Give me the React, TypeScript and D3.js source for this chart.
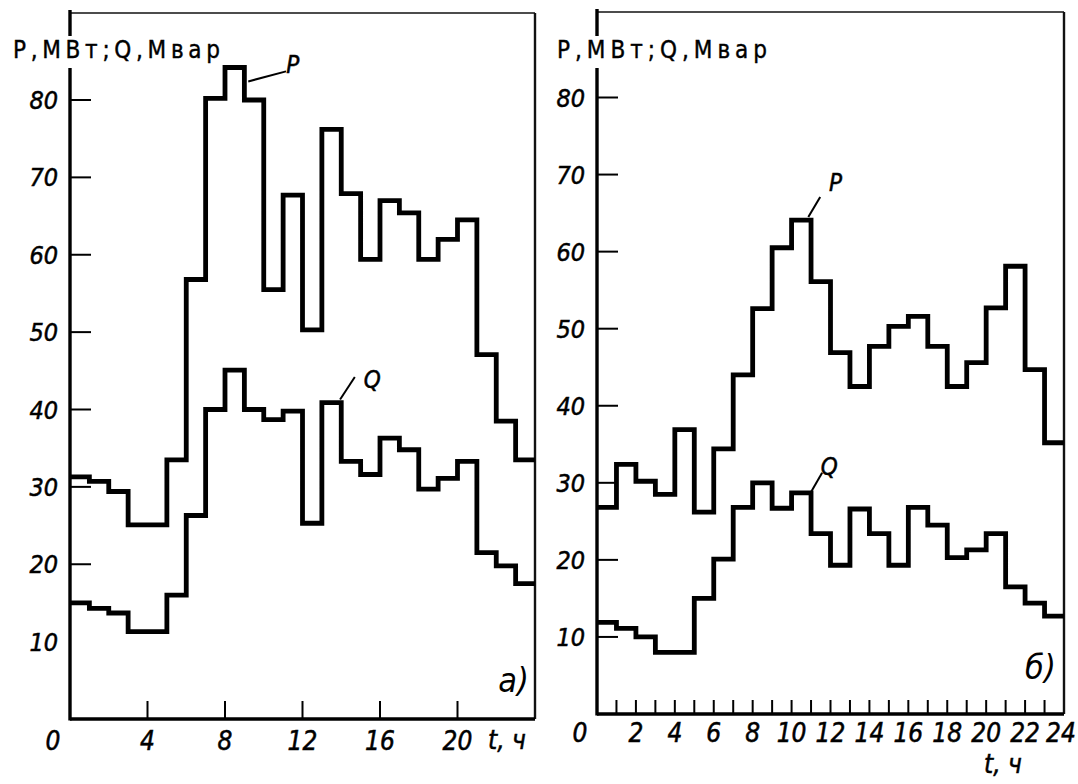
import { useRef, useEffect } from 'react'
import * as d3 from 'd3'

// hourly steps, value holds from hour h to h+1
const hours = [0, 1, 2, 3, 4, 5, 6, 7, 8, 9, 10, 11, 12, 13, 14, 15, 16, 17, 18, 19, 20, 21, 22, 23]

const pLeft = [31.3, 30.7, 29.4, 25.1, 25.1, 33.5, 56.8, 80.2, 84.2, 80.0, 55.5, 67.7, 50.3, 76.2, 67.9, 59.4, 67.0, 65.4, 59.4, 62.0, 64.5, 47.1, 38.5, 33.5]
const qLeft = [15.0, 14.3, 13.7, 11.3, 11.3, 16.0, 26.3, 40.0, 45.1, 40.0, 38.7, 39.8, 25.3, 40.9, 33.3, 31.6, 36.3, 34.8, 29.7, 31.1, 33.3, 21.5, 19.8, 17.5]
const pRight = [26.8, 32.4, 30.2, 28.5, 36.9, 26.2, 34.4, 44.0, 52.6, 60.5, 64.1, 56.1, 46.9, 42.5, 47.7, 50.3, 51.6, 47.7, 42.5, 45.6, 52.7, 58.1, 44.7, 35.2]
const qRight = [11.9, 11.1, 10.0, 8.0, 8.0, 15.0, 20.1, 26.8, 30.0, 26.7, 28.7, 23.4, 19.3, 26.6, 23.4, 19.3, 26.8, 24.5, 20.3, 21.3, 23.4, 16.5, 14.4, 12.7]

const yTickValues = [10, 20, 30, 40, 50, 60, 70, 80]
const xLabelsLeft = [0, 4, 8, 12, 16, 20]
const xTicksLeft = [4, 8, 12, 16, 20]
const xLabelsRight = [0, 2, 4, 6, 8, 10, 12, 14, 16, 18, 20, 22, 24]
const xTicksRight = [1, 2, 3, 4, 5, 6, 7, 8, 9, 10, 11, 12, 13, 14, 15, 16, 17, 18, 19, 20, 21, 22, 23]

const titleText = 'P,МВт;Q,Мвар'
const FONT = "'DejaVu Sans Condensed', 'DejaVu Sans', sans-serif"

type Panel = {
  p: number[]
  q: number[]
  left: number
  right: number
  bottom: number
  y80: number
  top: number
  yTicks: number[]
  xTicks: number[]
  xTickLen: number
  xLabels: number[]
  xLabelY: number
  unitX: number
  unitY: number
  panelLetter: string
  letterAt: [number, number]
  titleX: number
  titleLen: number
  pLabel: [number, number]
  pLeader: [number, number, number, number]
  qLabel: [number, number]
  qLeader: [number, number, number, number]
}

const panels: Panel[] = [
  {
    p: pLeft, q: qLeft,
    left: 70, right: 535, bottom: 719, y80: 100, top: 13,
    yTicks: [20, 30, 40, 50, 60, 70, 80],
    xTicks: xTicksLeft, xTickLen: 18,
    xLabels: xLabelsLeft, xLabelY: 750,
    unitX: 488, unitY: 749,
    panelLetter: 'а)', letterAt: [22.1, 3.5],
    titleX: 13, titleLen: 207,
    pLabel: [11.5, 84.6], pLeader: [9.2, 82.4, 11.15, 83.7],
    qLabel: [15.6, 44.0], qLeader: [13.94, 41.3, 14.7, 44.2],
  },
  {
    p: pRight, q: qRight,
    left: 597, right: 1064, bottom: 714, y80: 97.5, top: 12,
    yTicks: yTickValues,
    xTicks: xTicksRight, xTickLen: 14,
    xLabels: xLabelsRight, xLabelY: 742,
    unitX: 984, unitY: 773,
    panelLetter: 'б)', letterAt: [22.0, 4.5],
    titleX: 557, titleLen: 210,
    pLabel: [12.26, 69.0], pLeader: [10.86, 64.5, 11.47, 67.1],
    qLabel: [11.93, 32.2], qLeader: [11.0, 28.8, 11.57, 31.3],
  },
]

export default function App() {
  const svgRef = useRef<SVGSVGElement>(null)

  useEffect(() => {
    if (!svgRef.current) return
    const svg = d3.select(svgRef.current)
    svg.selectAll('*').remove()

    svg.append('rect').attr('width', 1078).attr('height', 784).attr('fill', '#fff')

    panels.forEach((cfg) => {
      const x = d3.scaleLinear().domain([0, 24]).range([cfg.left, cfg.right])
      const y = d3.scaleLinear().domain([0, 80]).range([cfg.bottom, cfg.y80])
      const g = svg.append('g')

      // frame: top and right edges
      g.append('line')
        .attr('x1', x(0)).attr('x2', x(24))
        .attr('y1', cfg.top).attr('y2', cfg.top)
        .attr('stroke', '#111').attr('stroke-width', 1.6)
      g.append('line')
        .attr('x1', x(24)).attr('x2', x(24))
        .attr('y1', cfg.top).attr('y2', y(0))
        .attr('stroke', '#111').attr('stroke-width', 2.4)

      // axes
      g.append('line')
        .attr('x1', x(0)).attr('x2', x(0))
        .attr('y1', cfg.top - 3).attr('y2', y(0) + 1.5)
        .attr('stroke', '#000').attr('stroke-width', 3.4)
      g.append('line')
        .attr('x1', x(0)).attr('x2', x(24))
        .attr('y1', y(0)).attr('y2', y(0))
        .attr('stroke', '#000').attr('stroke-width', 3.4)

      // y ticks
      g.selectAll('.yt')
        .data(cfg.yTicks)
        .enter()
        .append('line')
        .attr('x1', x(0)).attr('x2', x(0) + 21)
        .attr('y1', (d) => y(d)).attr('y2', (d) => y(d))
        .attr('stroke', '#000').attr('stroke-width', 2)

      g.selectAll('.yl')
        .data(yTickValues)
        .enter()
        .append('text')
        .attr('x', x(0) - 12)
        .attr('y', (d) => y(d) + 9)
        .attr('text-anchor', 'end')
        .attr('font-family', FONT)
        .attr('font-style', 'italic')
        .attr('font-stretch', 'condensed')
        .attr('font-size', 25)
        .attr('stroke', '#000')
        .attr('stroke-width', 0.5)
        .attr('fill', '#000')
        .text((d) => d)

      // x ticks
      g.selectAll('.xt')
        .data(cfg.xTicks)
        .enter()
        .append('line')
        .attr('x1', (d) => x(d)).attr('x2', (d) => x(d))
        .attr('y1', y(0)).attr('y2', y(0) - cfg.xTickLen)
        .attr('stroke', '#000').attr('stroke-width', 2)

      g.selectAll('.xl')
        .data(cfg.xLabels)
        .enter()
        .append('text')
        .attr('x', (d) => (d === 0 ? x(0) - 17 : d === 24 ? x(24) - 3 : x(d)))
        .attr('y', cfg.xLabelY)
        .attr('text-anchor', 'middle')
        .attr('font-family', FONT)
        .attr('font-style', 'italic')
        .attr('font-stretch', 'condensed')
        .attr('font-size', 26)
        .attr('stroke', '#000')
        .attr('stroke-width', 0.5)
        .attr('fill', '#000')
        .text((d) => d)

      g.append('text')
        .attr('x', cfg.unitX)
        .attr('y', cfg.unitY)
        .attr('font-family', FONT)
        .attr('font-style', 'italic')
        .attr('font-size', 26)
        .attr('stroke', '#000')
        .attr('stroke-width', 0.5)
        .attr('fill', '#000')
        .text('t, ч')

      // step curves
      const stepX = [...hours, 24]
      const line = d3
        .line<number>()
        .x((_, i) => x(stepX[i]))
        .y((d) => y(d))
        .curve(d3.curveStepAfter)

      ;[cfg.p, cfg.q].forEach((series) => {
        g.append('path')
          .datum([...series, series[series.length - 1]])
          .attr('fill', 'none')
          .attr('stroke', '#000')
          .attr('stroke-width', 4.8)
          .attr('stroke-linejoin', 'miter')
          .attr('d', line)
      })

      // series labels with leader lines
      const leaders: [[number, number, number, number], [number, number], string][] = [
        [cfg.pLeader, cfg.pLabel, 'P'],
        [cfg.qLeader, cfg.qLabel, 'Q'],
      ]
      leaders.forEach(([ld, lb, name]) => {
        g.append('line')
          .attr('x1', x(ld[0])).attr('y1', y(ld[1]))
          .attr('x2', x(ld[2])).attr('y2', y(ld[3]))
          .attr('stroke', '#000').attr('stroke-width', 2)
        g.append('text')
          .attr('x', x(lb[0]))
          .attr('y', y(lb[1]) + 9)
          .attr('text-anchor', 'middle')
          .attr('font-family', FONT)
          .attr('font-style', 'italic')
          .attr('font-size', 24)
          .attr('stroke', '#000')
          .attr('stroke-width', 0.5)
          .attr('fill', '#000')
          .text(name)
      })

      // panel letter
      g.append('text')
        .attr('x', x(cfg.letterAt[0]))
        .attr('y', y(cfg.letterAt[1]))
        .attr('font-family', FONT)
        .attr('font-style', 'italic')
        .attr('font-size', 34)
        .attr('fill', '#000')
        .text(cfg.panelLetter)

      // axis title over a white gap in the axis
      g.append('rect')
        .attr('x', x(0) - 8).attr('y', 36)
        .attr('width', 16).attr('height', 32)
        .attr('fill', '#fff')
      g.append('text')
        .attr('x', cfg.titleX)
        .attr('y', 58)
        .attr('font-family', FONT)
        .attr('font-size', 24)
        .attr('textLength', cfg.titleLen)
        .attr('lengthAdjust', 'spacing')
        .attr('stroke', '#000')
        .attr('stroke-width', 0.4)
        .attr('fill', '#000')
        .text(titleText)
    })
  }, [])

  return (
    <svg
      ref={svgRef}
      width={1078}
      height={784}
      style={{ position: 'absolute', left: 0, top: 0 }}
    />
  )
}
